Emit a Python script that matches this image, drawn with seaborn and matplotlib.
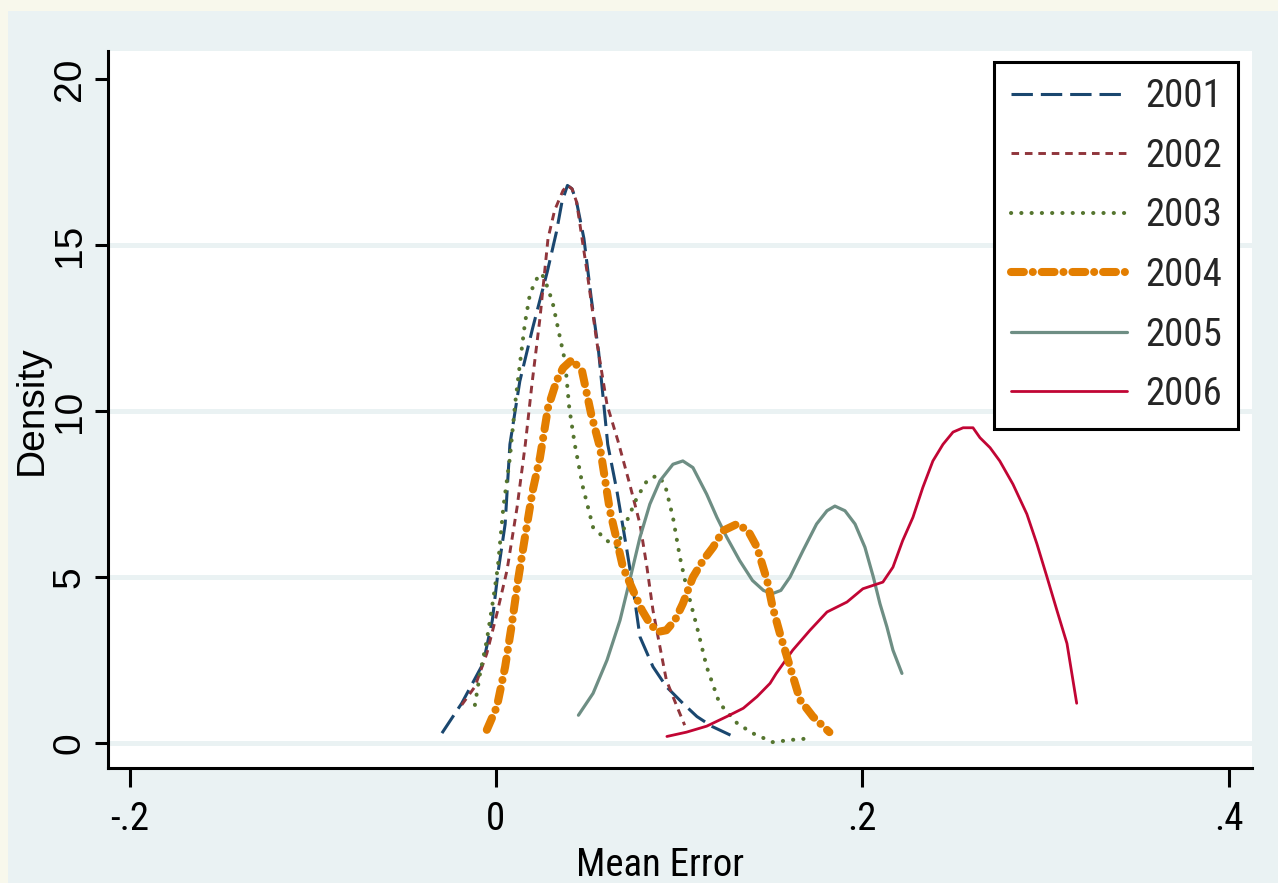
import numpy as np
import pandas as pd
import matplotlib
matplotlib.use("Agg")
import matplotlib.pyplot as plt
from matplotlib import font_manager
from matplotlib.font_manager import FontProperties
from matplotlib.patches import Rectangle
import seaborn as sns

# ---------------- data ----------------
years = ["2001", "2002", "2003", "2004", "2005", "2006"]

x_2001 = [-0.0295, -0.0187, -0.007, -0.002, 0.001, 0.005, 0.0076, 0.013, 0.020, 0.028, 0.033,
          0.036, 0.039, 0.0415, 0.044, 0.048, 0.052, 0.056, 0.061, 0.066, 0.0715, 0.075, 0.0786,
          0.0857, 0.093, 0.102, 0.1097, 0.118, 0.128]
y_2001 = [0.3, 1.2, 2.4, 3.7, 5.1, 6.6, 9.0, 10.9, 12.5, 14.2, 15.4,
          16.3, 16.8, 16.7, 16.3, 15.2, 13.4, 11.8, 9.0, 7.6, 5.8, 4.6, 3.2,
          2.3, 1.7, 1.2, 0.8, 0.5, 0.24]

x_2002 = [-0.0187, -0.0115, -0.005, 0.0005, 0.006, 0.0115, 0.016, 0.0196, 0.024, 0.0284, 0.032,
          0.0366, 0.039, 0.0415, 0.044, 0.0497, 0.055, 0.0606, 0.0666, 0.073, 0.0786, 0.0824,
          0.0857, 0.0895, 0.093, 0.0988, 0.103]
y_2002 = [1.15, 1.7, 2.7, 3.9, 5.2, 7.1, 9.0, 10.8, 12.8, 15.2, 16.05,
          16.65, 16.8, 16.7, 16.3, 14.2, 12.1, 10.2, 9.1, 7.8, 6.6, 5.3,
          4.0, 2.9, 1.9, 1.1, 0.54]

x_2003 = [-0.0115, -0.0087, -0.005, -0.0016, 0.001, 0.004, 0.0076, 0.0104, 0.013, 0.0158, 0.0186,
          0.0224, 0.025, 0.0284, 0.031, 0.035, 0.0377, 0.040, 0.043, 0.0475, 0.053, 0.0606, 0.066,
          0.0715, 0.077, 0.0824, 0.088, 0.0922, 0.0966, 0.1004, 0.104, 0.1097, 0.115, 0.122,
          0.1316, 0.140, 0.151, 0.162, 0.173]
y_2003 = [1.15, 2.1, 3.1, 4.3, 5.3, 7.1, 8.6, 10.2, 11.4, 12.65, 13.55,
          14.0, 14.15, 13.7, 13.25, 12.2, 11.5, 10.1, 9.0, 7.7, 6.5, 6.1, 5.9,
          6.7, 7.4, 7.9, 8.07, 7.8, 6.8, 5.6, 4.7, 3.5, 2.3, 1.2,
          0.6, 0.3, 0.03, 0.1, 0.15]

x_2004 = [-0.005, 0.0005, 0.005, 0.0087, 0.012, 0.0158, 0.020, 0.024, 0.0284, 0.033, 0.0366,
          0.0415, 0.047, 0.052, 0.0568, 0.0622, 0.066, 0.0693, 0.0748, 0.0797, 0.084, 0.0884,
          0.093, 0.0977, 0.102, 0.1075, 0.113, 0.1185, 0.124, 0.1316, 0.1376, 0.1425, 0.148,
          0.151, 0.155, 0.1605, 0.166, 0.173, 0.182]
y_2004 = [0.4, 1.1, 2.3, 3.6, 4.9, 6.2, 7.6, 8.6, 10.1, 10.9, 11.3,
          11.55, 11.2, 9.9, 8.9, 7.0, 6.1, 5.3, 4.6, 4.0, 3.6, 3.35,
          3.4, 3.7, 4.2, 5.0, 5.5, 5.9, 6.4, 6.6, 6.4, 5.9, 4.9,
          4.1, 3.3, 2.3, 1.3, 0.8, 0.33]

x_2005 = [0.045, 0.053, 0.0606, 0.0677, 0.073, 0.0786, 0.084, 0.0895, 0.0966, 0.102, 0.1075,
          0.115, 0.1206, 0.126, 0.133, 0.140, 0.146, 0.1507, 0.1555, 0.1605, 0.1676, 0.175,
          0.1807, 0.185, 0.1905, 0.196, 0.2014, 0.206, 0.2096, 0.2134, 0.2167, 0.2216]
y_2005 = [0.84, 1.5, 2.5, 3.7, 4.9, 6.2, 7.2, 7.9, 8.4, 8.5, 8.3,
          7.5, 6.8, 6.2, 5.5, 4.9, 4.6, 4.5, 4.6, 5.0, 5.8, 6.6,
          7.0, 7.14, 7.0, 6.6, 5.9, 5.0, 4.2, 3.5, 2.8, 2.1]

x_2006 = [0.0933, 0.104, 0.115, 0.126, 0.135, 0.1425, 0.1496, 0.153, 0.162, 0.1714, 0.1807,
          0.1916, 0.2003, 0.2112, 0.2167, 0.222, 0.2276, 0.233, 0.2385, 0.244, 0.2495, 0.255,
          0.2604, 0.2642, 0.2697, 0.275, 0.2822, 0.2898, 0.2953, 0.3008, 0.3062, 0.3117, 0.317]
y_2006 = [0.2, 0.33, 0.51, 0.8, 1.05, 1.4, 1.8, 2.1, 2.8, 3.4, 3.95,
          4.25, 4.65, 4.85, 5.3, 6.1, 6.8, 7.7, 8.5, 9.0, 9.37, 9.5,
          9.5, 9.2, 8.9, 8.5, 7.8, 6.9, 6.0, 5.0, 4.0, 3.0, 1.2]

x_ticks = [-0.2, 0.0, 0.2, 0.4]
x_tick_labels = ["-.2", "0", ".2", ".4"]
y_ticks = [0, 5, 10, 15, 20]
y_tick_labels = ["0", "5", "10", "15", "20"]

# ---------------- styling ----------------
sns.set_theme(style="white")
plt.rcParams["font.family"] = ["Liberation Sans", "DejaVu Sans"]

FS = 28


def find_narrow():
    fl = font_manager.fontManager.ttflist
    for want in ["Liberation Sans Narrow", "Arial Narrow", "Roboto Condensed",
                 "Open Sans Condensed", "Noto Sans Condensed", "DejaVu Sans Condensed"]:
        for f in fl:
            if f.name == want and f.style == "normal" and f.weight in (400, "normal", "regular"):
                return FontProperties(fname=f.fname, size=FS), True
    for f in fl:
        st = str(f.stretch)
        if (st in ("condensed", "semi-condensed") or st.isdigit() and int(st) < 500) \
                and f.style == "normal" and f.weight in (400, "normal", "regular") \
                and "Mono" not in f.name and "Serif" not in f.name:
            return FontProperties(fname=f.fname, size=FS), True
    return FontProperties(family=["Liberation Sans", "DejaVu Sans"], size=FS), False


narrow_fp, has_narrow = find_narrow()

colors = ["#1a476f", "#90353b", "#55752f", "#e37e00", "#6e8e84", "#c10534"]
widths = [2.2, 2.1, 2.9, 5.8, 2.3, 2.0]
dash_specs = [(7, 2.6), (2.6, 2.0), (0.05, 2.5), (1.6, 1.1, 0.01, 1.1), None, None]
caps = ["butt", "butt", "round", "round", "round", "round"]

fig = plt.figure(figsize=(12.78, 8.83), dpi=100, facecolor="#f8f8ec")
fig.patches.append(Rectangle((8 / 1278, 0), 1, (883 - 11) / 883, transform=fig.transFigure,
                             facecolor="#eaf2f3", edgecolor="none", zorder=-10))
ax = fig.add_axes([108 / 1278, 1 - 768 / 883, 1144 / 1278, 717 / 883])
ax.set_facecolor("white")

xs = [x_2001, x_2002, x_2003, x_2004, x_2005, x_2006]
ys = [y_2001, y_2002, y_2003, y_2004, y_2005, y_2006]
for i, yr in enumerate(years):
    df = pd.DataFrame({"x": xs[i], "y": ys[i]})
    sns.lineplot(data=df, x="x", y="y", ax=ax, color=colors[i], linewidth=widths[i],
                 sort=False, label=yr, zorder=3 + (1 if i == 3 else 0))
    ln = ax.lines[-1]
    if dash_specs[i] is not None:
        ln.set_dashes(dash_specs[i])
    ln.set_dash_capstyle(caps[i])
    ln.set_solid_capstyle("round")
    ln.set_solid_joinstyle("round")
    ln.set_dash_joinstyle("round")

ax.set_xlim(-0.2118, 0.4127)
ax.set_ylim(-0.75, 20.85)
ax.set_xticks(x_ticks, x_tick_labels)
ax.set_yticks(y_ticks, y_tick_labels)

ax.set_axisbelow(True)
ax.grid(axis="y", color="#eaf2f3", linewidth=3.6)
ax.grid(axis="x", visible=False)
ax.get_ygridlines()[-1].set_visible(False)

for s in ["top", "right"]:
    ax.spines[s].set_visible(False)
for s in ["left", "bottom"]:
    ax.spines[s].set_color("black")
    ax.spines[s].set_linewidth(2.2)

ax.tick_params(axis="x", direction="out", length=13.5, width=2.2, color="black",
               pad=10.5, labelsize=FS, labelcolor="black", bottom=True)
ax.tick_params(axis="y", direction="out", length=9.5, width=2.2, color="black",
               pad=5, labelsize=FS, labelcolor="black", labelrotation=90, left=True)
for lbl in ax.get_xticklabels():
    lbl.set_fontproperties(narrow_fp)
for lbl in ax.get_yticklabels():
    lbl.set_va("center")

ax.set_xlabel("Mean Error", color="black", fontproperties=narrow_fp)
ax.set_ylabel("Density", fontsize=FS, color="black")
ax.xaxis.set_label_coords(0.483, -0.110)
ax.yaxis.set_label_coords(-0.0507, 0.499)

leg = ax.legend(loc="upper right", bbox_to_anchor=(0.9878, 0.9847), borderaxespad=0,
                frameon=True, fancybox=False, shadow=False, framealpha=1,
                facecolor="white", edgecolor="black", prop=narrow_fp,
                handlelength=3.0, handletextpad=0.45, labelspacing=0.58, borderpad=0.42)
leg.get_frame().set_linewidth(2.2)

fig.savefig("out.png", dpi=100, facecolor=fig.get_facecolor())
